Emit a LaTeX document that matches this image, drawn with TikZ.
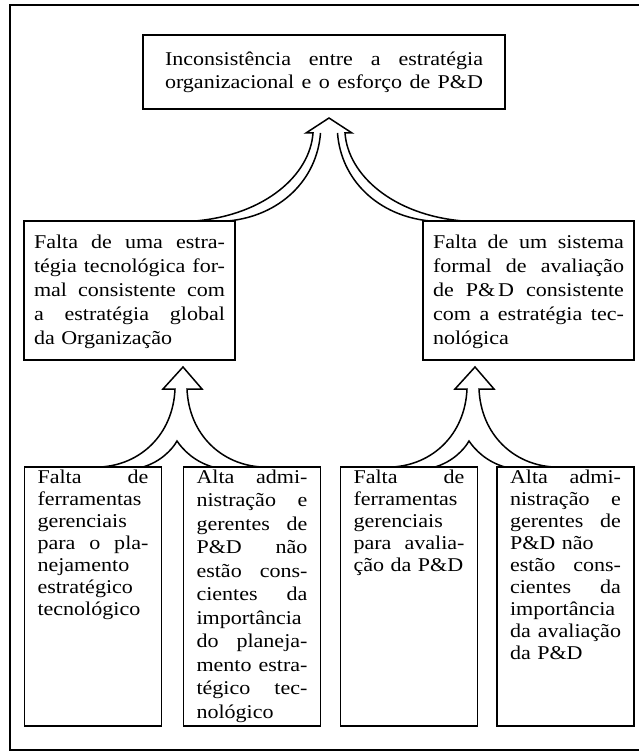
\documentclass[tikz,border=0pt]{standalone}
\usepackage{fontspec}
\setmainfont{Liberation Serif}[FakeStretch=1.13]
\newcommand{\jline}[1]{\hbox to\hsize{\spaceskip=0.25em plus 1fil\relax #1}\par}
\newcommand{\lline}[1]{\hbox to\hsize{#1\hfil}\par}
\begin{document}
\begin{tikzpicture}[x=1pt,y=1pt]
\tikzstyle{every node}+=[inner sep=0pt]
\tikzstyle{box}=[draw,line width=1.8pt]
\tikzstyle{topbox}=[box,text width=318pt,inner xsep=22pt,minimum height=74pt,font=\fontsize{19.5}{23}\selectfont]
\tikzstyle{midbox}=[box,text width=191pt,inner xsep=10pt,inner ysep=3pt,text height=24pt,text depth=109pt,font=\fontsize{19.5}{24}\selectfont]
\tikzstyle{lowbox}=[box,text width=111pt,inner xsep=13pt,inner ysep=2pt,text height=14pt,text depth=241pt,font=\fontsize{19.5}{22}\selectfont]
\tikzstyle{blockarrow}=[line width=1.5pt,line join=miter]
\useasboundingbox (0,0) rectangle (639,-754);
\draw [line width=1.8pt] (10,-5) rectangle (645,-750);
\node [topbox] (incons) at (324,-72) {\jline{Inconsistência entre a estratégia}\jline{organizacional e o esforço de P\&D}};
\node [midbox] (estrat) at (129.5,-290.5) {\jline{Falta de uma estra-}\jline{tégia tecnológica for-}\jline{mal consistente com}\jline{a estratégia global}\lline{da Organização}};
\node [midbox] (sistema) at (528.5,-290.5) {\jline{Falta de um sistema}\jline{formal de avaliação}\jline{de P\&\hspace{3pt}D consistente}\jline{com a estratégia tec-}\lline{nológica}};
\node [lowbox] (ferrplan) at (93,-596.5) {\jline{Falta de}\lline{ferramentas}\lline{gerenciais}\jline{para o pla-}\lline{nejamento}\lline{estratégico}\lline{tecnológico}};
\node [lowbox,font=\fontsize{19.5}{23.5}\selectfont] (altaplan) at (252,-596.5) {\jline{Alta admi-}\jline{nistração e}\jline{gerentes de}\jline{P\&D não}\jline{estão cons-}\jline{cientes da}\lline{importância}\jline{do planeja-}\jline{mento estra-}\jline{tégico tec-}\lline{nológico}};
\node [lowbox] (ferraval) at (409,-596.5) {\jline{Falta de}\lline{ferramentas}\lline{gerenciais}\jline{para avalia-}\lline{ção da P\&D}};
\node [lowbox] (altaaval) at (565.5,-596.5) {\jline{Alta admi-}\jline{nistração e}\jline{gerentes de}\lline{P\&D não}\jline{estão cons-}\jline{cientes da}\lline{importância}\jline{da avaliação}\lline{da P\&D}};
\coordinate (headTop) at (329,-118);
\coordinate (headL) at (183,-367);
\coordinate (headR) at (475,-367);
\draw [blockarrow,shift={(headTop)}] (-134,-103) .. controls (-64,-97) and (-19,-57) .. (-16,-15) -- (-23,-15) -- (0,0) -- (23,-15) -- (16,-15) .. controls (19,-57) and (64,-97) .. (134,-103);
\draw [blockarrow,shift={(headTop)}] (-101,-103) .. controls (-49,-98) and (-12,-62) .. (-8.5,-15);
\draw [blockarrow,shift={(headTop)}] (101,-103) .. controls (49,-98) and (12,-62) .. (8.5,-15);
\draw [blockarrow,shift={(headL)}] (-83,-100) .. controls (-43,-98) and (-10,-68) .. (-8,-22) -- (-20,-22) -- (0,0) -- (19,-22) -- (4,-22) .. controls (6,-68) and (39,-98) .. (79,-100);
\draw [blockarrow,shift={(headL)}] (-40,-100) .. controls (-23,-95) and (-11,-83) .. (-6,-74) .. controls (0,-83) and (12,-95) .. (30,-100);
\draw [blockarrow,shift={(headR)}] (-83,-100) .. controls (-43,-98) and (-10,-68) .. (-8,-22) -- (-20,-22) -- (0,0) -- (19,-22) -- (4,-22) .. controls (6,-68) and (39,-98) .. (79,-100);
\draw [blockarrow,shift={(headR)}] (-40,-100) .. controls (-23,-95) and (-11,-83) .. (-6,-74) .. controls (0,-83) and (12,-95) .. (30,-100);
\end{tikzpicture}
\end{document}
